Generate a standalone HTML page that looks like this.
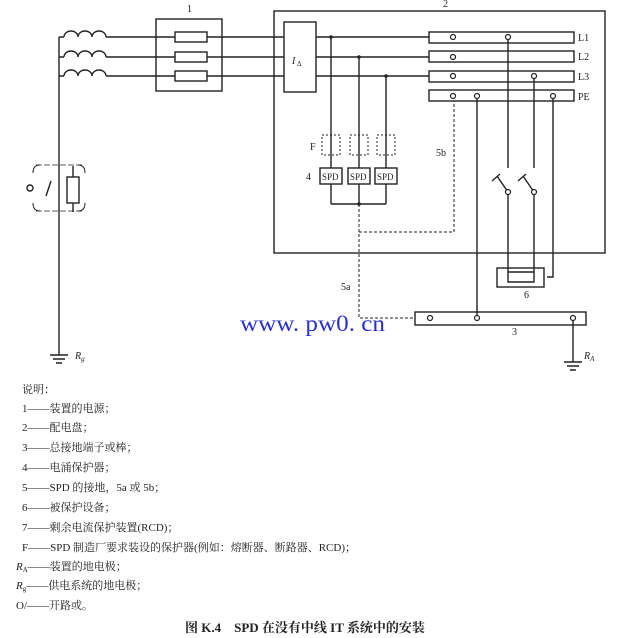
<!DOCTYPE html>
<html><head><meta charset="utf-8"><style>
body{margin:0;background:#fff;}
svg{display:block;}
.t{font-family:"Liberation Serif","Noto Serif CJK SC",serif;font-size:11px;fill:#222;}
.s{font-family:"Liberation Serif","Noto Serif CJK SC",serif;font-size:10px;fill:#222;}
</style></head><body>
<svg width="620" height="638" viewBox="0 0 620 638" xmlns="http://www.w3.org/2000/svg">
<g stroke="#222" stroke-width="1.4" fill="none">
<path d="M59 37 V355"/>
<path d="M59 37 H64 M59 57 H64 M59 76 H64"/>
<path d="M64 37 a7 6 0 0 1 14 0 a7 6 0 0 1 14 0 a7 6 0 0 1 14 0"/>
<path d="M64 57 a7 6 0 0 1 14 0 a7 6 0 0 1 14 0 a7 6 0 0 1 14 0"/>
<path d="M64 76 a7 6 0 0 1 14 0 a7 6 0 0 1 14 0 a7 6 0 0 1 14 0"/>
<path d="M106 37 H284 M106 57 H284 M106 76 H284"/>
<rect x="156" y="19" width="66" height="72"/>
<rect x="175" y="32" width="32" height="10" fill="#fff"/>
<rect x="175" y="52" width="32" height="10" fill="#fff"/>
<rect x="175" y="71" width="32" height="10" fill="#fff"/>
<path d="M40 165 q-7 0 -7 8 M78 165 q7 0 7 8 M40 211 q-7 0 -7 -8 M78 211 q7 0 7 -8" stroke-width="1"/>
<path d="M36 165 H82 M36 211 H82" stroke-width="0.8" stroke-dasharray="6 2"/>
<circle cx="30" cy="188" r="3"/>
<path d="M46 196 L51 181"/>
<path d="M73 166 V212"/>
<rect x="67" y="177" width="12" height="26" fill="#fff"/>
<path d="M50 355 H68 M53 359 H65 M56 363 H62"/>
<rect x="274" y="11" width="331" height="242"/>
<rect x="284" y="22" width="32" height="70"/>
<path d="M316 37 H429 M316 57 H429 M316 76 H429"/>
<rect x="429" y="32" width="145" height="11"/>
<rect x="429" y="51" width="145" height="11"/>
<rect x="429" y="71" width="145" height="11"/>
<rect x="429" y="90" width="145" height="11"/>
<path d="M331 37 V204 M359 57 V204 M386 76 V204 M331 204 H386"/>
<g stroke-width="1" stroke-dasharray="2 2">
<rect x="322" y="135" width="18" height="20"/>
<rect x="350" y="135" width="18" height="20"/>
<rect x="377" y="135" width="18" height="20"/>
</g>
<rect x="320" y="168" width="22" height="16" fill="#fff"/>
<rect x="348" y="168" width="22" height="16" fill="#fff"/>
<rect x="375" y="168" width="22" height="16" fill="#fff"/>
<path d="M359 204 V318 H415 M359 232 H454 V101" stroke-width="1" stroke-dasharray="3 2"/>
<path d="M508 37 V168 M534 76 V168 M477 96 V318 M553 96 V277 H547"/>
<path d="M497 176 L508 192 M492 181 L500 174 M523 176 L534 192 M518 181 L526 174"/>
<path d="M508 192 V282 H534 V192"/>
<rect x="497" y="268" width="47" height="19"/>
<path d="M508 272 H534"/>
<rect x="415" y="312" width="171" height="13"/>
<path d="M573 318 V362 M564 362 H582 M567 366 H579 M570 370 H576"/>
</g>
<g fill="#fff" stroke="#222" stroke-width="1.2">
<circle cx="453" cy="37" r="2.5"/><circle cx="508" cy="37" r="2.5"/>
<circle cx="453" cy="57" r="2.5"/>
<circle cx="453" cy="76" r="2.5"/><circle cx="534" cy="76" r="2.5"/>
<circle cx="453" cy="96" r="2.5"/><circle cx="477" cy="96" r="2.5"/><circle cx="553" cy="96" r="2.5"/>
<circle cx="508" cy="192" r="2.5"/><circle cx="534" cy="192" r="2.5"/>
<circle cx="430" cy="318" r="2.5"/><circle cx="477" cy="318" r="2.5"/><circle cx="573" cy="318" r="2.5"/>
</g>
<g fill="#222"><circle cx="331" cy="37" r="1.8"/><circle cx="359" cy="57" r="1.8"/><circle cx="386" cy="76" r="1.8"/><circle cx="359" cy="204" r="1.8"/></g>
<g class="s">
<text x="187" y="12">1</text><text x="443" y="7">2</text>
<text x="292" y="64" font-style="italic">I</text><text x="297" y="66" font-size="7">Δ</text>
<text x="578" y="41">L1</text><text x="578" y="60">L2</text><text x="578" y="80">L3</text><text x="578" y="100">PE</text>
<text x="310" y="150">F</text><text x="306" y="180">4</text>
<text x="322" y="180" font-size="9">SPD</text><text x="350" y="180" font-size="9">SPD</text><text x="377" y="180" font-size="9">SPD</text>
<text x="436" y="156">5b</text><text x="341" y="290">5a</text>
<text x="524" y="298">6</text><text x="512" y="335">3</text>
<text x="75" y="359" font-style="italic">R<tspan font-size="7" dy="2">g</tspan></text>
<text x="584" y="359" font-style="italic">R<tspan font-size="7" dy="2">A</tspan></text>
</g>
<text x="240" y="331" font-family="Liberation Serif,serif" font-size="23" fill="#2a2fd0" textLength="145" lengthAdjust="spacingAndGlyphs">www. pw0. cn</text>
<g class="t">
<text x="22" y="393">说明：</text>
<text x="22" y="412">1——装置的电源；</text>
<text x="22" y="431">2——配电盘；</text>
<text x="22" y="451">3——总接地端子或棒；</text>
<text x="22" y="471">4——电涌保护器；</text>
<text x="22" y="491">5——SPD 的接地，5a 或 5b；</text>
<text x="22" y="511">6——被保护设备；</text>
<text x="22" y="531">7——剩余电流保护装置(RCD)；</text>
<text x="22" y="551">F——SPD 制造厂要求装设的保护器(例如：熔断器、断路器、RCD)；</text>
<text x="16" y="570"><tspan font-style="italic">R</tspan><tspan font-size="7" dy="2">A</tspan><tspan dy="-2">——装置的地电极；</tspan></text>
<text x="16" y="589"><tspan font-style="italic">R</tspan><tspan font-size="7" dy="2">g</tspan><tspan dy="-2">——供电系统的地电极；</tspan></text>
<text x="16" y="609">O/——开路或。</text>
<text x="185" y="632" font-size="13" font-weight="bold">图 K.4　SPD 在没有中线 IT 系统中的安装</text>
</g>
</svg>
</body></html>
